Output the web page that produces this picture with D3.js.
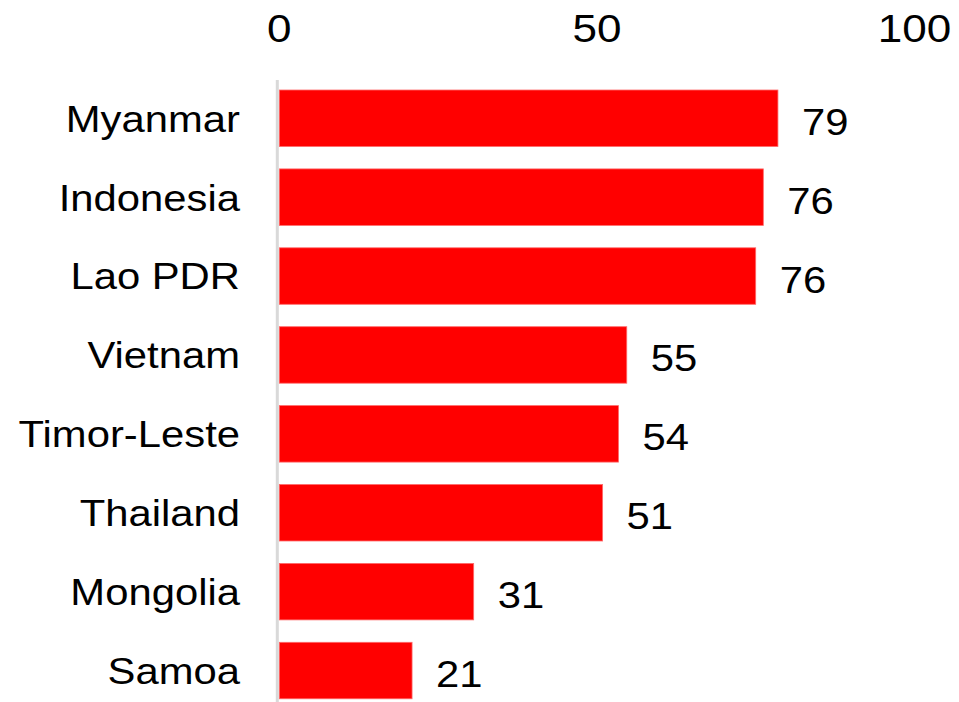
<!DOCTYPE html>
<html>
<head>
<meta charset="utf-8">
<script src="https://cdn.jsdelivr.net/npm/d3@7"></script>
<style>
  html, body { margin: 0; padding: 0; background: #fff; }
  text { font-family: "Liberation Sans", Arial, sans-serif; fill: #000; }
</style>
</head>
<body>
<svg id="chart"></svg>
<script>
const countries = ['Myanmar', 'Indonesia', 'Lao PDR', 'Vietnam', 'Timor-Leste', 'Thailand', 'Mongolia', 'Samoa'];
const values = [78.5, 76.2, 75.0, 54.7, 53.4, 50.9, 30.6, 20.9];
const valueLabels = ['79', '76', '76', '55', '54', '51', '31', '21'];
const xTicks = [0, 50, 100];

const width = 959;
const height = 702;
const fontSize = 37;
const tickFontSize = 39;
const stretch = 1.13; // text in the picture is a little wide

const data = countries.map((c, i) => ({ name: c, value: values[i], label: valueLabels[i] }));

const svg = d3.select('#chart')
  .attr('width', width)
  .attr('height', height);

const x = d3.scaleLinear().domain([0, 100]).range([279.3, 914.5]);
const y = d3.scaleBand()
  .domain(countries)
  .range([78.8, 710])
  .paddingInner(0.284)
  .paddingOuter(0.142);

// top axis, labels only
const xAxis = d3.axisTop(x).tickValues(xTicks).tickSize(0).tickPadding(0);
const gx = svg.append('g')
  .attr('class', 'axis--x')
  .attr('transform', 'translate(0, 42.3)')
  .call(xAxis);
gx.select('.domain').remove();
gx.selectAll('.tick').each(function (d) {
  d3.select(this).attr('transform', `translate(${x(d)},0)`);
  d3.select(this).select('text')
    .attr('x', 0)
    .attr('y', 0)
    .attr('dy', 0)
    .attr('fill', '#000')
    .style('font-size', tickFontSize + 'px')
    .style('font-family', '"Liberation Sans", Arial, sans-serif')
    .attr('transform', `scale(${stretch},1)`);
});

// bars
svg.append('g').attr('class', 'bars')
  .selectAll('rect')
  .data(data)
  .join('rect')
  .attr('x', x(0))
  .attr('y', d => y(d.name))
  .attr('width', d => x(d.value) - x(0))
  .attr('height', y.bandwidth())
  .attr('fill', '#ff0000')
  .attr('stroke', '#ff6a6a')
  .attr('stroke-width', 0.8);

// vertical category axis line
svg.append('line')
  .attr('x1', 277.3).attr('x2', 277.3)
  .attr('y1', 80).attr('y2', height)
  .attr('stroke', '#d9d9d9')
  .attr('stroke-width', 3);

// category labels
svg.append('g').attr('class', 'cat-labels')
  .selectAll('text')
  .data(data)
  .join('text')
  .attr('transform', d => `translate(240, ${y(d.name) + y.bandwidth() / 2 + 13.4}) scale(${stretch},1)`)
  .attr('text-anchor', 'end')
  .style('font-size', fontSize + 'px')
  .text(d => d.name);

// value labels
svg.append('g').attr('class', 'value-labels')
  .selectAll('text')
  .data(data)
  .join('text')
  .attr('transform', d => `translate(${x(d.value) + 24}, ${y(d.name) + y.bandwidth() / 2 + 16.5}) scale(${stretch},1)`)
  .style('font-size', fontSize + 'px')
  .text(d => d.label);
</script>
</body>
</html>
